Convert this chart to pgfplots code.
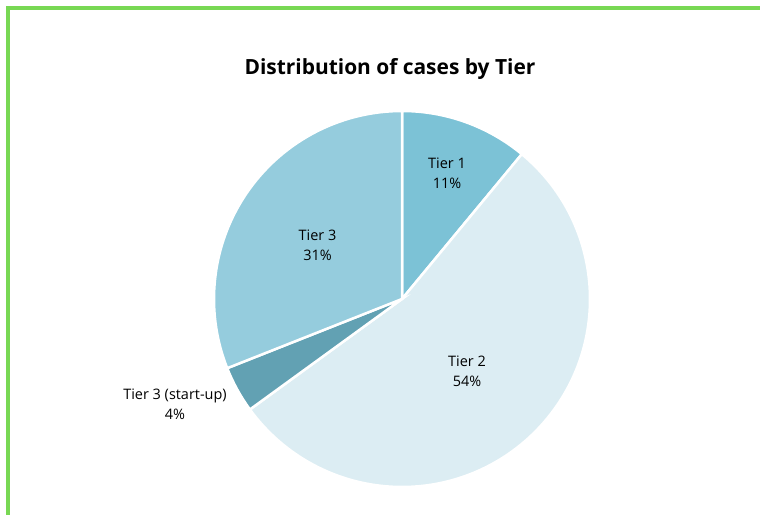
\documentclass[border=0pt]{standalone}
\usepackage{pgfplots}
\pgfplotsset{compat=1.18}
\usepackage{pgfplotstable}
\usepackage{fontspec}
\setmainfont{Open Sans}
\newfontfamily\titlefont{Open Sans}
\definecolor{slice0}{HTML}{7CC2D6}
\definecolor{slice1}{HTML}{DCEDF3}
\definecolor{slice2}{HTML}{62A1B3}
\definecolor{slice3}{HTML}{95CCDD}
\definecolor{bordergreen}{HTML}{78D854}

% value in percent; labx, laby = label centre (axis units = pixels)
\pgfplotstableread[col sep=comma]{
label,value,labx,laby
Tier 1,11,447,342
Tier 2,54,467,144
Tier 3 (start-up),4,175,111
Tier 3,31,317.5,270
}\piedata

\begin{document}
\begin{tikzpicture}
\path[use as bounding box] (0,0) rectangle (760bp,515bp);
\begin{axis}[at={(0,0)}, anchor=south west, width=760bp, height=515bp,
  scale only axis, xmin=0, xmax=760, ymin=0, ymax=515, hide axis, clip=false]
\def\angstart{90}
\pgfplotsforeachungrouped \i in {0,...,3}{%
  \pgfplotstablegetelem{\i}{value}\of\piedata \let\val\pgfplotsretval
  \pgfplotstablegetelem{\i}{label}\of\piedata \let\lab\pgfplotsretval
  \pgfplotstablegetelem{\i}{labx}\of\piedata \let\lx\pgfplotsretval
  \pgfplotstablegetelem{\i}{laby}\of\piedata \let\ly\pgfplotsretval
  \pgfmathsetmacro\angend{\angstart-3.6*\val}%
  \edef\temp{\noexpand\fill[fill=slice\i, draw=white, line width=2.5bp]
    (axis cs:402,216) -- ++(\angstart:188bp)
    arc[start angle=\angstart, end angle=\angend, radius=188bp] -- cycle;}%
  \temp
  \edef\temp{\noexpand\node[align=center, text=black, inner sep=0pt,
    font=\noexpand\fontsize{14.5}{20}\noexpand\selectfont]
    at (axis cs:\lx,\ly) {\lab\noexpand\\\val\noexpand\%};}%
  \temp
  \global\let\angstart\angend
}
\node[font=\titlefont\bfseries\fontsize{21}{25}\selectfont, text=black]
  at (axis cs:390,446) {Distribution of cases by Tier};
\end{axis}
\fill[bordergreen] (6bp,0) rectangle (10bp,509bp);
\fill[bordergreen] (6bp,505bp) rectangle (760bp,509bp);
\end{tikzpicture}
\end{document}
